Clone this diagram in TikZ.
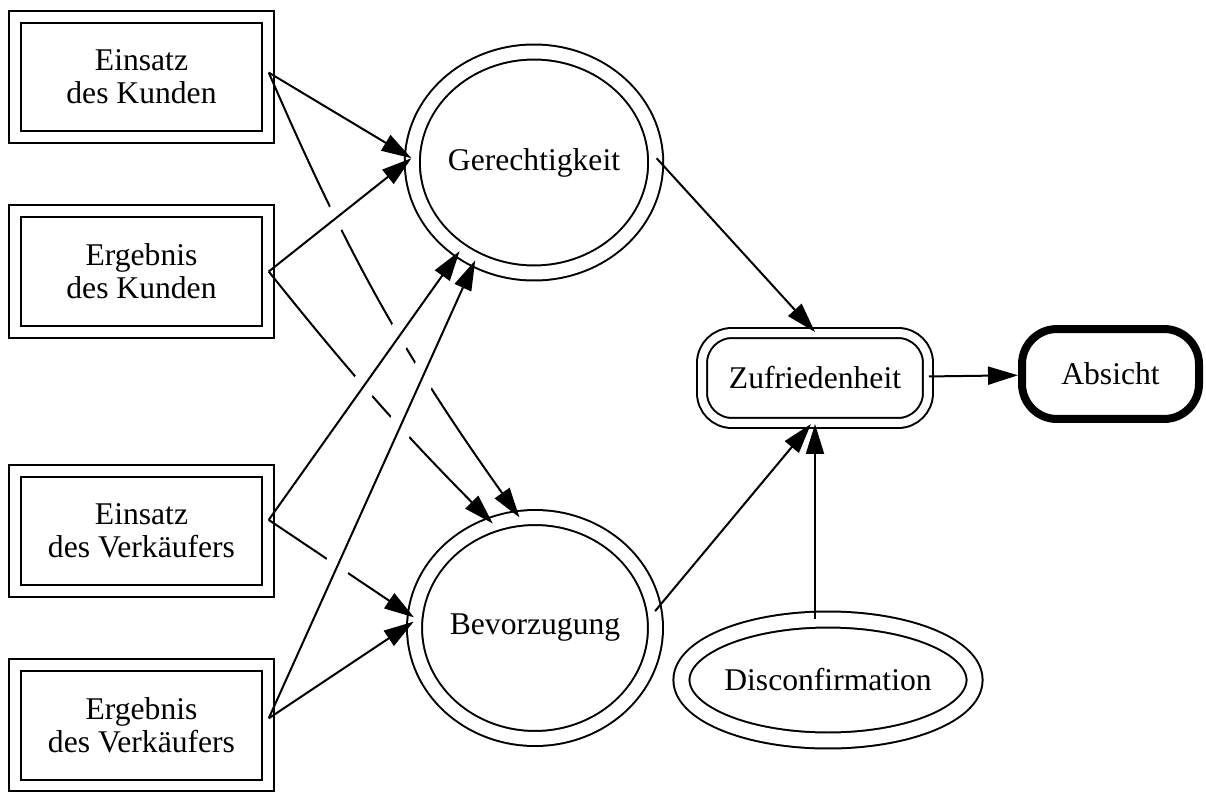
\documentclass[tikz,border=0pt]{standalone}
\usepackage{fontspec}
\setmainfont{Liberation Serif}
\usepackage{tikz}
\usetikzlibrary{arrows.meta, shapes.geometric, positioning}

\begin{document}
\begin{tikzpicture}
[
    x = 0.02cm, y = -0.02cm,  % one unit is one pixel of the layout
    line width = 0.04cm,
    every node/.style = {align = center, inner sep = 0pt, font = \fontsize{18}{18.7}\selectfont}
  ]

  \tikzset{BoxStyle/.style   = {shape          = rectangle,
                                draw, double,
                                double distance = 0.2cm,
                                minimum width   = 5.05cm,
                                minimum height  = 2.42cm},
           RoundStyle/.style = {shape          = ellipse,
                                draw, double,
                                double distance = 0.26cm,
                                minimum width   = 4.58cm,
                                minimum height  = 4.42cm},
           ZufStyle/.style   = {shape          = rectangle,
                                draw, double,
                                double distance = 0.16cm,
                                rounded corners = 0.6cm,
                                minimum width   = 4.52cm,
                                minimum height  = 1.8cm},
           AbsStyle/.style   = {shape          = rectangle,
                                draw,
                                line width      = 0.16cm,
                                rounded corners = 0.7cm,
                                minimum width   = 3.54cm,
                                minimum height  = 1.8cm},
           DisStyle/.style   = {shape          = ellipse,
                                draw, double,
                                double distance = 0.28cm,
                                minimum width   = 5.46cm,
                                minimum height  = 2.42cm},
           ArrowStyle/.style = {-{Triangle[length=0.6cm, width=0.36cm]}},
           GapStyle/.style   = {preaction = {draw = white, arrows = -, line width = 0.5cm,
                                             shorten <= 1cm, shorten >= 1.2cm}}}

  \useasboundingbox (0,0) rectangle (1206,791);

  \node[BoxStyle](EK) at (141.5,77)   {Einsatz\\des Kunden};
  \node[BoxStyle](GK) at (141.5,271.5) {Ergebnis\\des Kunden};
  \node[BoxStyle](EV) at (141.5,531)  {Einsatz\\des Verkäufers};
  \node[BoxStyle](GV) at (141.5,725)  {Ergebnis\\des Verkäufers};

  \node[RoundStyle](Ger) at (534,162.5) {Gerechtigkeit};
  \node[RoundStyle](Bev) at (535,628)   {Bevorzugung};

  \node[ZufStyle](Zuf) at (815,378)    {Zufriedenheit};
  \node[AbsStyle](Abs) at (1110.5,374) {Absicht};
  \node[DisStyle](Dis) at (828,680)    {Disconfirmation};

  % edges to Bevorzugung, cut by the ones drawn later
  \draw[ArrowStyle](EK.2) to[bend right=6] (Bev.98);
  \draw[ArrowStyle](GK.east) to[bend right=3] (Bev.112);
  \draw[ArrowStyle](EV.5) to (Bev.175);
  \draw[ArrowStyle](GV.3) to (Bev.177);

  % edges to Gerechtigkeit
  \draw[ArrowStyle](EK.2) to (Ger.178);
  \draw[ArrowStyle, GapStyle](GK.east) to (Ger.178);
  \draw[ArrowStyle, GapStyle](EV.5) to (Ger.230);
  \draw[ArrowStyle, GapStyle](GV.3) to (Ger.239);

  \draw[ArrowStyle](Ger.2) to (Zuf.north);
  \draw[ArrowStyle](Bev.8) to (Zuf.265);
  \draw[ArrowStyle](Dis.north -| Zuf.south) to (Zuf.south);
  \draw[ArrowStyle](Zuf) to (Abs);
\end{tikzpicture}
\end{document}
